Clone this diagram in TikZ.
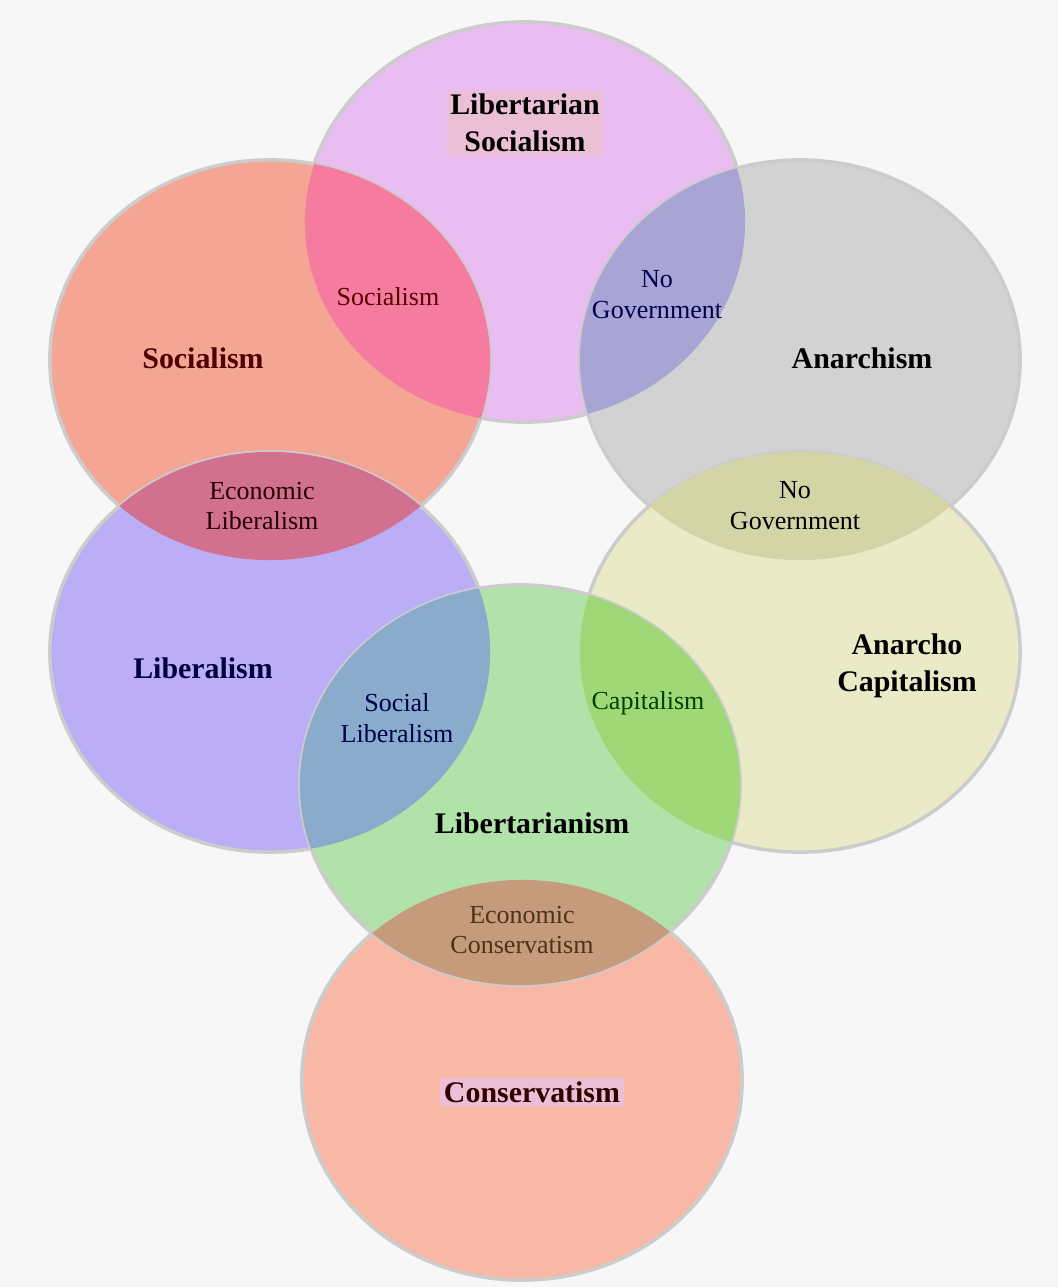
\documentclass[tikz,border=0pt]{standalone}
\usepackage{fontspec}
\setmainfont{Liberation Serif}
\usepackage{xcolor}
\usetikzlibrary{positioning}
% --- colours of the big ovals
\definecolor{bgcol}{HTML}{F7F7F7}
\definecolor{libsoccol}{HTML}{E9BDF2}
\definecolor{socialcol}{HTML}{F4A593}
\definecolor{anarchcol}{HTML}{D2D2D2}
\definecolor{liberalcol}{HTML}{BBAEF6}
\definecolor{ancapcol}{HTML}{EAEBC6}
\definecolor{libertcol}{HTML}{B1E2A9}
\definecolor{conservcol}{HTML}{F9B8A5}
% --- colours of the overlaps
\definecolor{sosoccol}{HTML}{F57BA1}
\definecolor{nogovacol}{HTML}{A8A4D4}
\definecolor{ecolibcol}{HTML}{D1718F}
\definecolor{nogovbcol}{HTML}{D4D5A7}
\definecolor{soclibcol}{HTML}{8AABCB}
\definecolor{capitcol}{HTML}{A0D878}
\definecolor{ecoconcol}{HTML}{C59B7C}
\definecolor{labelbox}{HTML}{EBC0D6}
\newcommand\ovalrx{2.2cm}
\newcommand\ovalry{2.0cm}
\newcommand\overlap[3]{%
  \begin{scope}
    \clip (#1) ellipse [x radius=\ovalrx, y radius=\ovalry];
    \fill[#3] (#2) ellipse [x radius=\ovalrx, y radius=\ovalry];
  \end{scope}}
\tikzset{
  oval/.style={draw=gray!40, line width=1pt},
  bigname/.style={font=\fontsize{8.5}{10.5}\selectfont\bfseries, align=center, inner sep=1pt},
  smallname/.style={font=\fontsize{7.4}{8.8}\selectfont, align=center, inner sep=1pt},
}

\begin{document}
\begin{tikzpicture}[x=0.01cm,y=-0.01cm]
    % --- Background
    \fill[bgcol] (0,0) rectangle (1058,1287);
    \useasboundingbox (0,0) rectangle (1058,1287);
    % --- Centres
    \coordinate (LS) at (525,222);
    \coordinate (SO) at (270,360);
    \coordinate (AN) at (800,360);
    \coordinate (LI) at (270,652);
    \coordinate (AC) at (800,652);
    \coordinate (LT) at (520,785);
    \coordinate (CO) at (522,1080);
    % --- Big ovals
    \draw[oval, fill=libsoccol] (LS) ellipse [x radius=\ovalrx, y radius=\ovalry];
    \draw[oval, fill=socialcol] (SO) ellipse [x radius=\ovalrx, y radius=\ovalry];
    \draw[oval, fill=anarchcol] (AN) ellipse [x radius=\ovalrx, y radius=\ovalry];
    \draw[oval, fill=liberalcol] (LI) ellipse [x radius=\ovalrx, y radius=\ovalry];
    \draw[oval, fill=ancapcol] (AC) ellipse [x radius=\ovalrx, y radius=\ovalry];
    \draw[oval, fill=conservcol] (CO) ellipse [x radius=\ovalrx, y radius=\ovalry];
    \draw[oval, fill=libertcol] (LT) ellipse [x radius=\ovalrx, y radius=\ovalry];
    % --- Overlaps
    \overlap{SO}{LS}{sosoccol}
    \overlap{LS}{AN}{nogovacol}
    \overlap{SO}{LI}{ecolibcol}
    \overlap{AN}{AC}{nogovbcol}
    \overlap{LI}{LT}{soclibcol}
    \overlap{LT}{AC}{capitcol}
    \overlap{LT}{CO}{ecoconcol}
    % --- Names of the ovals
    \node[bigname, fill=labelbox] (libsoc) at (525,123) {Libertarian\\Socialism};
    \node[bigname, text=red!30!black] (social) at (203,358) {Socialism};
    \node[bigname] (anarch) at (862,358) {Anarchism};
    \node[bigname, text=blue!25!black] (liberal) at (203,668) {Liberalism};
    \node[bigname] (ancap) at (907,666) {Anarcho\\Capitalism};
    \node[bigname] (libert) at (532,823) {Libertarianism};
    \node[bigname, fill=labelbox, text=red!20!black] (conserv) at (532,1092) {Conservatism};
    % --- Names of the overlaps
    \node[smallname, text=red!35!black] (sosoc) at (388,297) {Socialism};
    \node[smallname, text=blue!30!black] (nogova) at (657,295) {No\\Government};
    \node[smallname, text=red!15!black] (ecolib) at (262,506) {Economic\\Liberalism};
    \node[smallname] (nogovb) at (795,506) {No\\Government};
    \node[smallname, text=blue!30!black] (soclib) at (397,718) {Social\\Liberalism};
    \node[smallname, text=green!25!black] (capit) at (648,703) {Capitalism};
    \node[smallname, text=brown!40!black] (ecocon) at (522,930) {Economic\\Conservatism};
\end{tikzpicture}
\end{document}
